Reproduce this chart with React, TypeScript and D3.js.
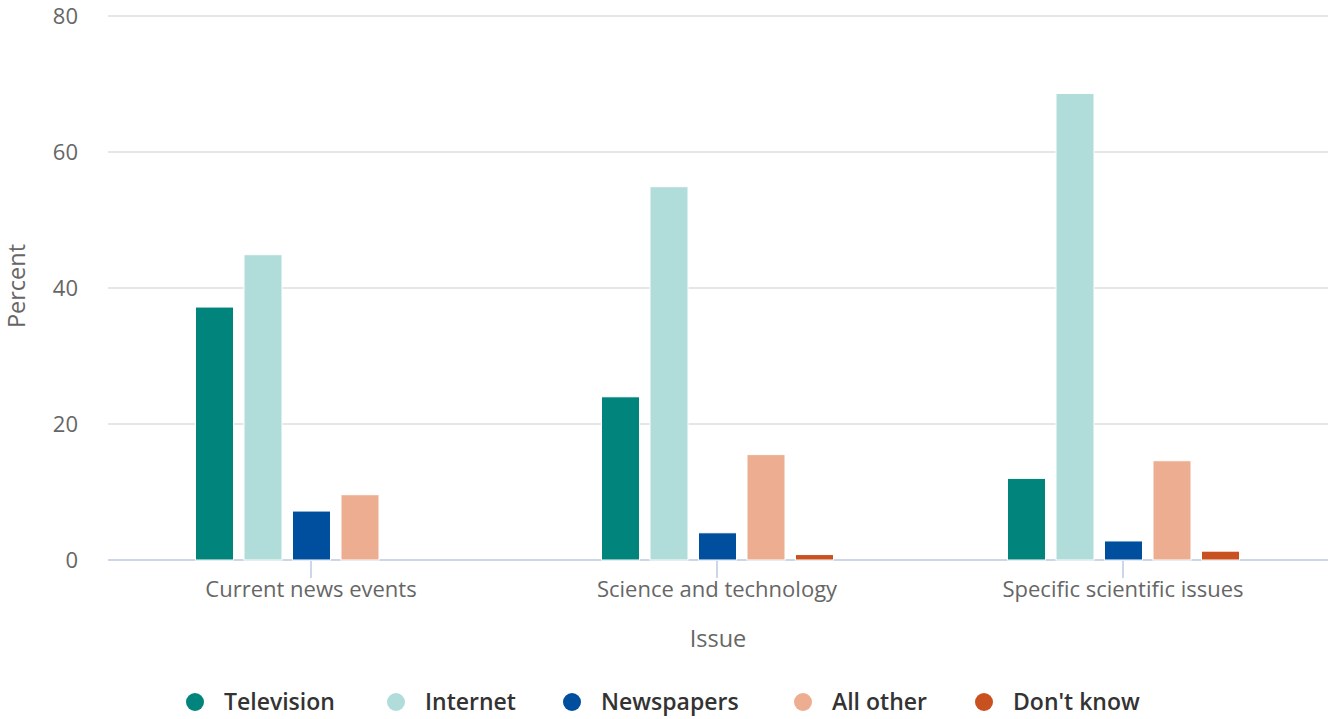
import React from "react";
import * as d3 from "d3";

const categories = ["Current news events", "Science and technology", "Specific scientific issues"];
const seriesNames = ["Television", "Internet", "Newspapers", "All other", "Don't know"];
const seriesColors = ["#00847c", "#b0ddd9", "#004f9f", "#ecad90", "#c8511f"];
const television = [37.2, 24.0, 12.0];
const internet = [44.9, 54.9, 68.6];
const newspapers = [7.2, 4.0, 2.8];
const allOther = [9.6, 15.5, 14.6];
const dontKnow = [0, 0.8, 1.3];
const yTicks = [0, 20, 40, 60, 80];

const seriesValues = [television, internet, newspapers, allOther, dontKnow];

const W = 1331;
const H = 719;
const left = 108;
const right = 1326;
const gridRight = 1328;
const top = 16;
const bottom = 560;
const font = "'Open Sans', 'Noto Sans', sans-serif";

export default function App() {
  const x = d3.scaleBand<string>().domain(categories).range([left, right]).padding(0);
  const y = d3.scaleLinear().domain([0, 80]).range([bottom, top]);
  const step = 48.5;
  const barW = 38;
  const inner = d3
    .scaleBand<string>()
    .domain(seriesNames)
    .range([0, step * seriesNames.length])
    .paddingInner((step - barW) / step)
    .paddingOuter((step - barW) / 2 / step);
  const groupW = step * seriesNames.length;

  const legendX = [195, 396, 572, 803, 984];

  return (
    <>
      <style>{`body{margin:0}`}</style>
      <svg width={W} height={H} style={{ display: "block", fontFamily: font }}>
        <rect width={W} height={H} fill="#fff" />
        {yTicks.map((t) => (
          <g key={t}>
            {t !== 0 && (
              <line x1={left} x2={gridRight} y1={y(t)} y2={y(t)} stroke="#e6e6e6" strokeWidth={2} />
            )}
            <text x={78} y={y(t)} dy="0.36em" textAnchor="end" fontSize={22} fill="#666">
              {t}
            </text>
          </g>
        ))}
        <line x1={left} x2={gridRight} y1={bottom} y2={bottom} stroke="#ccd6eb" strokeWidth={2} />
        {categories.map((c) => {
          const cx = (x(c) as number) + x.bandwidth() / 2;
          return (
            <g key={c}>
              <line x1={cx} x2={cx} y1={bottom} y2={bottom + 18} stroke="#ccd6eb" strokeWidth={2} />
              <text x={cx} y={597} textAnchor="middle" fontSize={22} fill="#666">
                {c}
              </text>
            </g>
          );
        })}
        {seriesNames.map((s, si) =>
          categories.map((c, ci) => {
            const cx = (x(c) as number) + x.bandwidth() / 2;
            const bx = cx + 0.5 - groupW / 2 + (inner(s) as number);
            const v = seriesValues[si][ci];
            if (v <= 0) return null;
            return (
              <rect
                key={s + c}
                x={bx}
                y={y(v)}
                width={inner.bandwidth()}
                height={bottom - y(v)}
                fill={seriesColors[si]}
                stroke="#fff"
                strokeWidth={1}
              />
            );
          })
        )}
        <text
          transform={`translate(${25},${286}) rotate(-90)`}
          textAnchor="middle"
          fontSize={23.5}
          fill="#666"
        >
          Percent
        </text>
        <text x={718} y={647} textAnchor="middle" fontSize={23.5} fill="#666">
          Issue
        </text>
        {seriesNames.map((s, i) => (
          <g key={s}>
            <circle cx={legendX[i]} cy={702} r={9} fill={seriesColors[i]} />
            <text x={legendX[i] + 29} y={702} dy="0.36em" fontSize={23} fontWeight={600} fill="#333">
              {s}
            </text>
          </g>
        ))}
      </svg>
    </>
  );
}
